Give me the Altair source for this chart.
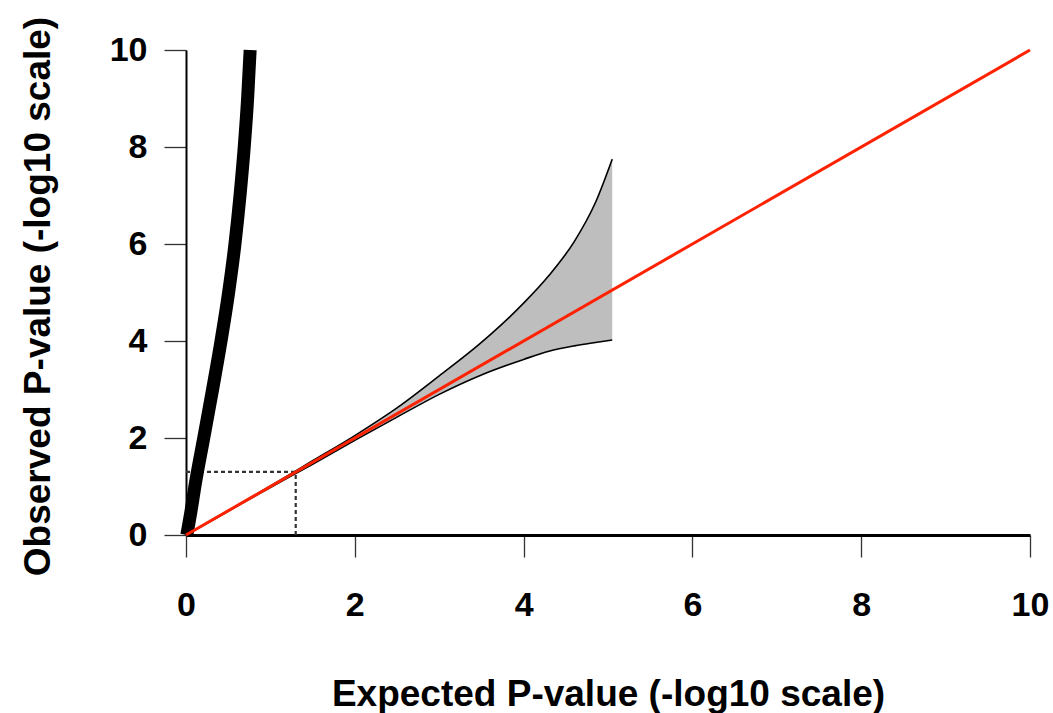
import altair as alt
import pandas as pd

# Observed (black) QQ points
obs_expected = [0.01, 0.06, 0.105, 0.21, 0.315, 0.415, 0.505, 0.58, 0.64, 0.69, 0.73, 0.76]
obs_observed = [0, 0.5, 1.0, 2.0, 3.0, 4.0, 5.0, 6.0, 7.0, 8.0, 9.0, 10.0]

# Confidence band
ci_x = [0, 0.5, 1, 1.5, 2, 2.5, 3, 3.5, 4, 4.3, 4.6, 4.85, 5.05]
ci_upper = [0, 0.5, 1.01, 1.53, 2.05, 2.62, 3.28, 3.97, 4.78, 5.35, 6.05, 6.85, 7.75]
ci_lower = [0, 0.49, 0.98, 1.46, 1.95, 2.43, 2.9, 3.3, 3.62, 3.79, 3.9, 3.97, 4.02]

# Diagonal reference line
diag_x = [0, 10]
diag_y = [0, 10]

# Significance threshold (-log10(0.05))
thr = 1.3

x_ticks = [0, 2, 4, 6, 8, 10]
y_ticks = [0, 2, 4, 6, 8, 10]

FONT = "Liberation Sans"

XS = alt.Scale(domain=[0, 10], nice=False, zero=False)
YS = alt.Scale(domain=[0, 10], nice=False, zero=False)

XA = alt.Axis(
    title="Expected P-value (-log10 scale)", values=x_ticks, grid=False,
    domainColor="black", domainWidth=3, tickColor="#333", tickWidth=1.3, tickSize=22,
    labelFont=FONT, labelFontSize=34, labelFontWeight="bold", labelColor="black",
    labelBaseline="alphabetic", labelPadding=58, labelFlush=False,
    titleFont=FONT, titleFontSize=37, titleFontWeight="bold", titleColor="black",
    titleBaseline="alphabetic", titleX=422, titleY=170, titleAnchor="middle", titleAlign="center",
)
YA = alt.Axis(
    title="Observed P-value (-log10 scale)", values=y_ticks, grid=False,
    domainColor="black", domainWidth=2, tickColor="#333", tickWidth=1.3, tickSize=22,
    labelFont=FONT, labelFontSize=34, labelFontWeight="bold", labelColor="black",
    labelPadding=17, labelFlush=False,
    titleFont=FONT, titleFontSize=37, titleFontWeight="bold", titleColor="black",
    titleAngle=270, titleBaseline="alphabetic", titleX=-137, titleY=246,
    titleAlign="center", titleAnchor="middle",
)


def X(f):
    return alt.X(f, type="quantitative", scale=XS, axis=XA)


def Y(f):
    return alt.Y(f, type="quantitative", scale=YS, axis=YA)


ci_df = pd.DataFrame({"x": ci_x, "lo": ci_lower, "hi": ci_upper})
obs_df = pd.DataFrame({"x": obs_expected, "y": obs_observed})
diag_df = pd.DataFrame({"x": diag_x, "y": diag_y})
hdash = pd.DataFrame({"x": [0], "x2": [thr], "y": [thr], "y2": [thr]})
vdash = pd.DataFrame({"x": [thr], "x2": [thr], "y": [0], "y2": [thr]})

band = alt.Chart(ci_df).mark_area(color="#bebebe", opacity=1, interpolate="monotone").encode(
    x=X("x"), y=Y("lo"), y2="hi"
)
upper = alt.Chart(ci_df).mark_line(color="black", strokeWidth=1.6, interpolate="monotone").encode(
    x=X("x"), y=Y("hi"))
lower = alt.Chart(ci_df).mark_line(color="black", strokeWidth=1.6, interpolate="monotone").encode(
    x=X("x"), y=Y("lo"))

dash_h = alt.Chart(hdash).mark_rule(color="#333", strokeWidth=2.2, strokeDash=[4, 3]).encode(
    x=X("x"), x2="x2", y=Y("y")
)
dash_v = alt.Chart(vdash).mark_rule(color="#333", strokeWidth=2.2, strokeDash=[4, 3]).encode(
    x=X("x"), y=Y("y"), y2="y2"
)

obs = alt.Chart(obs_df).mark_line(color="black", strokeWidth=13, strokeCap="butt",
                                  interpolate="monotone").encode(
    x=X("x"), y=Y("y"), order=alt.Order("y:Q")
)

diag = alt.Chart(diag_df).mark_line(color="#ff2200", strokeWidth=3).encode(x=X("x"), y=Y("y"))

chart = alt.layer(band, upper, lower, dash_h, dash_v, obs, diag).properties(
    width=844, height=485,
    background="white",
    autosize=alt.AutoSizeParams(type="none"),
    padding={"left": 186, "top": 50, "right": 23, "bottom": 178},
).configure_view(strokeWidth=0, stroke="transparent")

chart.save("out.html", embed_options={"renderer": "svg", "actions": False})
